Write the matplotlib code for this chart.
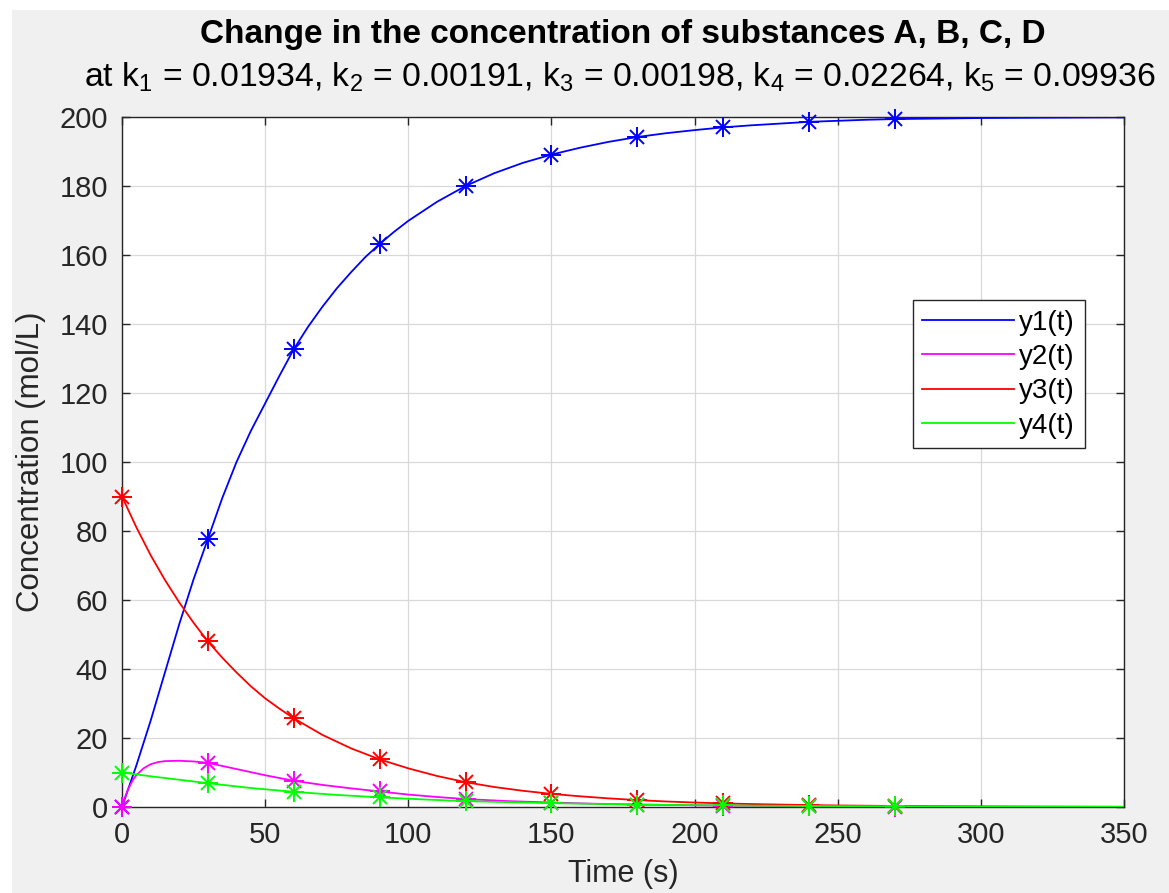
import numpy as np
import matplotlib
matplotlib.use("Agg")
import matplotlib.pyplot as plt
from matplotlib.patches import Rectangle

plt.rcParams['font.family'] = ['Liberation Sans', 'DejaVu Sans']
plt.rcParams['mathtext.fontset'] = 'custom'
plt.rcParams['mathtext.rm'] = 'Liberation Sans'
plt.rcParams['mathtext.it'] = 'Liberation Sans'

# ---- data ----
t1 = [0, 5, 10, 15, 20, 25, 30, 35, 40, 45, 50, 55, 60, 65, 70, 75, 80, 85, 90, 95, 100, 110,
      120, 130, 140, 150, 160, 170, 180, 190, 200, 210, 220, 230, 240, 250, 260, 270, 280,
      300, 320, 350]
y1 = [0, 12, 25, 39, 53, 66, 77.7, 89.5, 100, 109, 117, 125, 132.7, 139.2, 145, 150.3, 155,
      159.4, 163.2, 166.7, 169.9, 175.4, 180, 183.7, 186.7, 189.1, 191.1, 192.8, 194.2, 195.3,
      196.2, 197.0, 197.6, 198.1, 198.6, 198.9, 199.2, 199.4, 199.5, 199.7, 199.8, 199.9]

t2 = [0, 1, 2, 3, 4, 5, 7.5, 10, 12.5, 15, 20, 25, 30, 40, 50, 60, 70, 80, 90, 100, 110, 120,
      135, 150, 165, 180, 210, 240, 270, 300, 350]
y2 = [0, 2.7, 4.9, 6.6, 8.1, 9.2, 11.2, 12.4, 13.0, 13.3, 13.4, 13.2, 12.8, 11.0, 9.2, 7.6, 6.4,
      5.4, 4.5, 3.6, 2.9, 2.3, 1.7, 1.3, 0.95, 0.7, 0.4, 0.22, 0.12, 0.07, 0.03]

t3 = [0, 5, 10, 15, 20, 25, 30, 35, 40, 45, 50, 55, 60, 70, 80, 90, 100, 110, 120, 130, 140,
      150, 160, 170, 180, 190, 200, 210, 220, 230, 240, 250, 260, 270, 280, 300, 320, 350]
y3 = [90, 81.1, 73.0, 65.8, 59.3, 53.4, 48, 43.3, 39, 35, 31.5, 28.5, 25.7, 20.9, 17, 13.8,
      11.2, 9.0, 7.2, 5.8, 4.7, 3.8, 3.1, 2.5, 2.0, 1.6, 1.3, 1.05, 0.85, 0.7, 0.55, 0.45,
      0.37, 0.3, 0.25, 0.16, 0.1, 0.05]

t4 = [0, 10, 20, 30, 45, 60, 75, 90, 105, 120, 150, 180, 210, 240, 270, 300, 350]
y4 = [10, 8.9, 7.9, 6.9, 5.5, 4.4, 3.5, 2.8, 2.2, 1.7, 1.1, 0.7, 0.45, 0.3, 0.2, 0.12, 0.06]

marker_times = [0, 30, 60, 90, 120, 150, 180, 210, 240, 270]
labels = ['y1(t)', 'y2(t)', 'y3(t)', 'y4(t)']
colors = ['#0000ff', '#ff00ff', '#ff0000', '#00ff00']

xticks = list(range(0, 351, 50))
yticks = list(range(0, 201, 20))

title1 = 'Change in the concentration of substances A, B, C, D'
title2 = (r'at k$_1$ = 0.01934, k$_2$ = 0.00191, k$_3$ = 0.00198, '
          r'k$_4$ = 0.02264, k$_5$ = 0.09936')

# ---- figure ----
W, H = 1169, 893
fig = plt.figure(figsize=(W / 100, H / 100), dpi=100, facecolor='#f0f0f0')
fig.patches.append(Rectangle((0, 1 - 10 / H), 1, 10 / H, transform=fig.transFigure,
                             facecolor='white', edgecolor='none', zorder=-1))
fig.patches.append(Rectangle((0, 0), 12 / W, 1, transform=fig.transFigure,
                             facecolor='white', edgecolor='none', zorder=-1))

ax = fig.add_axes([122 / W, 1 - 807 / H, (1124 - 122) / W, (807 - 117) / H])
ax.set_facecolor('white')

series = [(t1, y1), (t2, y2), (t3, y3), (t4, y4)]
for (t, y), c, lab in zip(series, colors, labels):
    ta = np.array(t, dtype=float)
    ya = np.array(y, dtype=float)
    ax.plot(ta, ya, color=c, lw=1.3, label=lab, zorder=3)
    m = np.isin(ta, marker_times)
    # MATLAB-style '*' marker: a plus combined with a smaller cross
    ax.plot(ta[m], ya[m], linestyle='none', marker='+', markersize=15,
            markeredgewidth=1.4, color=c, zorder=4, clip_on=False)
    ax.plot(ta[m], ya[m], linestyle='none', marker='x', markersize=10,
            markeredgewidth=1.4, color=c, zorder=4, clip_on=False)

ax.set_xlim(0, 350)
ax.set_ylim(0, 200)
ax.set_xticks(xticks)
ax.set_yticks(yticks)
ax.grid(True, color='#d9d9d9', lw=0.9)
ax.set_axisbelow(True)
ax.tick_params(direction='in', length=6, width=1, top=True, right=True,
               labelsize=21, colors='#262626', pad=10)
for s in ax.spines.values():
    s.set_color('#262626')
    s.set_linewidth(1.0)

ax.set_xlabel('Time (s)', fontsize=22, color='#262626', labelpad=7)
ax.set_ylabel('Concentration (mol/L)', fontsize=22.5, color='#262626', labelpad=10)

fig.text(623 / W, 1 - 34 / H, title1, ha='center', va='center', fontsize=24,
         fontweight='bold', color='black')
fig.text(620 / W, 1 - 77 / H, title2, ha='center', va='center', fontsize=24.3,
         color='black')

leg = ax.legend(loc='upper right', bbox_to_anchor=(0.961, 0.735), fontsize=20,
                handlelength=3.3, fancybox=False, framealpha=1, edgecolor='#262626',
                borderpad=0.35, labelspacing=0.3, handletextpad=0.2, borderaxespad=0)
leg.get_frame().set_linewidth(1.0)

fig.savefig('out.png', dpi=100, facecolor=fig.get_facecolor())
